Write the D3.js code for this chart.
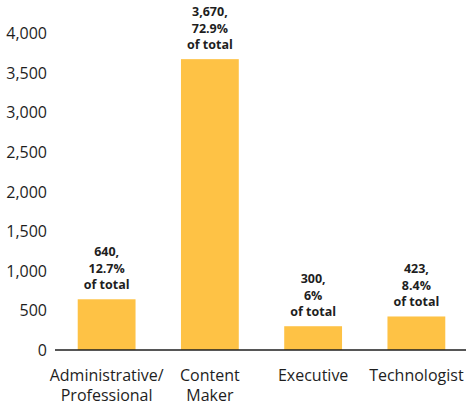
<!DOCTYPE html>
<html>
<head>
<meta charset="utf-8">
<script src="https://cdn.jsdelivr.net/npm/d3@7"></script>
<style>
  body { margin: 0; background: #fff; }
  text { font-family: "Open Sans", sans-serif; fill: #1e1e1e; }
</style>
</head>
<body>
<svg class="chart" width="466" height="407"></svg>
<script>
// data
var categories = [["Administrative/", "Professional"], ["Content", "Maker"], ["Executive"], ["Technologist"]];
var counts = [640, 3670, 300, 423];
var shares = ["12.7%", "72.9%", "6%", "8.4%"];
var yTicks = [0, 500, 1000, 1500, 2000, 2500, 3000, 3500, 4000];

var svg = d3.select(".chart");

var x = d3.scaleBand()
    .domain(d3.range(counts.length))
    .range([55, 468])
    .paddingInner(0.44)
    .paddingOuter(0.22);

var y = d3.scaleLinear()
    .domain([0, 4000])
    .range([350, 33]);

// y tick labels
svg.selectAll(".ytick")
    .data(yTicks).enter()
    .append("text")
    .attr("class", "ytick")
    .attr("x", 47)
    .attr("y", function (d) { return y(d); })
    .attr("dy", "0.38em")
    .attr("text-anchor", "end")
    .attr("font-size", "16px")
    .text(function (d) { return d3.format(",")(d); });

// bars
svg.selectAll(".bar")
    .data(counts).enter()
    .append("rect")
    .attr("class", "bar")
    .attr("x", function (d, i) { return x(i); })
    .attr("y", function (d) { return y(d); })
    .attr("width", x.bandwidth())
    .attr("height", function (d) { return y(0) - y(d); })
    .attr("fill", "#FEC245");

// baseline
svg.append("line")
    .attr("x1", 55)
    .attr("x2", 466)
    .attr("y1", y(0))
    .attr("y2", y(0))
    .attr("stroke", "#1e1e1e")
    .attr("stroke-width", 1.5);

// value labels
var labels = svg.selectAll(".vlabel")
    .data(counts).enter()
    .append("text")
    .attr("class", "vlabel")
    .attr("text-anchor", "middle")
    .attr("font-size", "12.5px")
    .attr("font-weight", "bold")
    .attr("transform", function (d, i) {
        return "translate(" + (x(i) + x.bandwidth() / 2) + "," + (y(d) - 10) + ")";
    });

labels.each(function (d, i) {
    var lines = [d3.format(",")(d) + ",", shares[i], "of total"];
    d3.select(this).selectAll("tspan")
        .data(lines).enter()
        .append("tspan")
        .attr("x", 0)
        .attr("y", function (l, j) { return (j - 2) * 16.5; })
        .text(function (l) { return l; });
});

// category labels
var cats = svg.selectAll(".cat")
    .data(categories).enter()
    .append("text")
    .attr("class", "cat")
    .attr("text-anchor", "middle")
    .attr("font-size", "16px")
    .attr("transform", function (d, i) {
        return "translate(" + (x(i) + x.bandwidth() / 2) + ",381)";
    });

cats.each(function (d) {
    d3.select(this).selectAll("tspan")
        .data(d).enter()
        .append("tspan")
        .attr("x", 0)
        .attr("y", function (l, j) { return j * 20; })
        .text(function (l) { return l; });
});
</script>
</body>
</html>
